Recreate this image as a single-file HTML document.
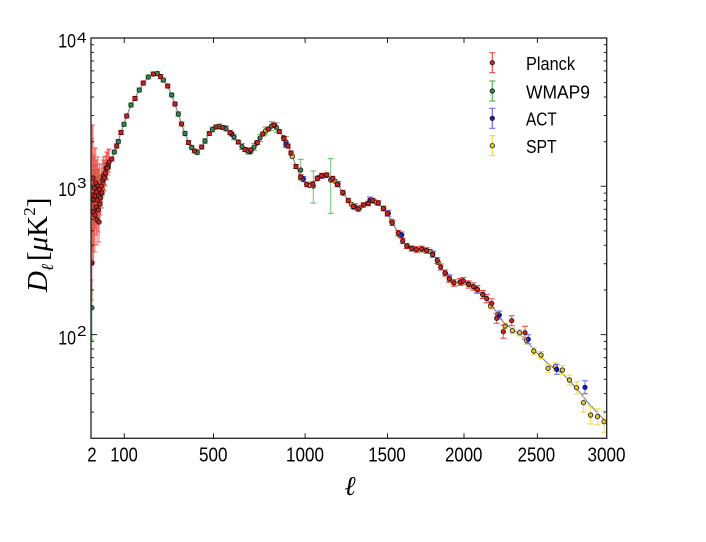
<!DOCTYPE html>
<html><head><meta charset="utf-8">
<style>
html,body{margin:0;padding:0;background:#fff;}
svg{display:block;}
</style></head>
<body>
<svg width="706" height="542" viewBox="0 0 706 542" xmlns="http://www.w3.org/2000/svg" font-family="Liberation Sans, sans-serif">
<defs>
<clipPath id="cp"><rect x="91" y="38" width="515.7" height="400.3"/></clipPath>
<marker id="cR" markerUnits="userSpaceOnUse" markerWidth="6" markerHeight="2" refX="3" refY="1" orient="0" overflow="visible"><path d="M0 1h6" stroke="#f03c3c" stroke-width="1"/></marker>
<marker id="cRs" markerUnits="userSpaceOnUse" markerWidth="4" markerHeight="2" refX="2" refY="1" orient="0" overflow="visible"><path d="M0 1h4" stroke="#f03c3c" stroke-width="0.8"/></marker>
<marker id="cG" markerUnits="userSpaceOnUse" markerWidth="6" markerHeight="2" refX="3" refY="1" orient="0" overflow="visible"><path d="M0 1h6" stroke="#5cb85c" stroke-width="1"/></marker>
<marker id="cGs" markerUnits="userSpaceOnUse" markerWidth="4" markerHeight="2" refX="2" refY="1" orient="0" overflow="visible"><path d="M0 1h4" stroke="#5cb85c" stroke-width="0.8"/></marker>
<marker id="cB" markerUnits="userSpaceOnUse" markerWidth="6" markerHeight="2" refX="3" refY="1" orient="0" overflow="visible"><path d="M0 1h6" stroke="#6a6aff" stroke-width="1"/></marker>
<marker id="cY" markerUnits="userSpaceOnUse" markerWidth="6" markerHeight="2" refX="3" refY="1" orient="0" overflow="visible"><path d="M0 1h6" stroke="#f2d84a" stroke-width="1"/></marker>
</defs>
<rect width="706" height="542" fill="#fff"/>

<g clip-path="url(#cp)">
<!-- theory line -->
<path fill="none" stroke="#8a8a8a" stroke-width="1.2" d="M91 185L94 188L97 190L100 190L101.5 188L103.3 182L105 176L108.3 167L111.7 159L114.3 152L116.7 146.5L118.3 141.5L121 132L124 124.3L126.7 116L131 105L135 98L139.3 90L143.3 83L148.3 77L153.3 74L157.3 73.5L160.5 76L163.3 80L167.7 86L171.7 95L175 104L178.3 114L181.5 124L185 133.5L188.5 142L191.7 147.5L194.5 151L197.3 152.3L201.7 147.5L205 141L209.3 133.3L212.5 129.5L216 127L219.5 126.5L222.7 127L226 128.5L230 132.5L234 137L238.3 142L242 146.5L245 149.3L248 151L251 150.5L254 147L257.3 142L260 138L262.7 134L265.5 131L268.3 129L271.5 126L274 125L276.5 127.5L279.3 131.5L284 138L288 146L291 153L296 166L300.7 177L303.5 182L306.7 184.5L309.5 185.5L312.7 184L317.3 178L321.7 175.5L326.7 175.5L332.7 178.5L337.3 184L342.7 192.5L348.3 200.5L353.3 206.5L358.3 208.5L363.3 205.5L368.3 203L372.7 201L378.3 203L383.3 208L387.3 213.5L392.3 222.5L398.3 233L402.7 240.5L406.7 246L411.7 248.5L416.7 249.3L421.7 249.5L426.7 250.5L432.7 254L437.3 261L440.7 267L445 273L449.3 278.5L454 282.5L460 282L463.3 281.5L468.7 284L473.3 286.5L477.3 289.5L482.7 294L486.7 298.5L491.7 305L496.7 313L503.3 322L511.7 329L519.3 334L525 338.5L534 350L540.7 356.5L548.3 364L555 369L561.7 373L569 380L576 388L582.7 396L590 405L596.7 412L604.3 420L608 424"/>

<!-- WMAP9 -->
<path fill="none" stroke="#5cb85c" stroke-width="1" stroke-opacity="0.85" marker-start="url(#cGs)" marker-mid="url(#cGs)" marker-end="url(#cGs)" d="M91.9 280V340M92.46 170V250M93.5 155V225M94.45 170V230M95.36 165V218M96.2 176V224M97.05 164V207M97.86 176V217M98.65 171V209M99.8 177V212M101.28 174V205M102.7 168V197M104.1 163V190M105.4 163V186"/>
<path fill="none" stroke="#5cb85c" stroke-width="1" stroke-opacity="0.85" marker-start="url(#cG)" marker-mid="url(#cG)" marker-end="url(#cG)" d="M108.3 165V169M114.3 150V154M118.3 139.5V143.5M124 122.3V126.3M131 103V107M139.3 88V92M148.3 75V79M157.3 71.5V75.5M163.3 78V82M171.7 93V97M178.3 111.8V116.2M185 131.3V135.7M191.7 145.3V149.7M197.3 150V154.6M205 138.7V143.3M212.5 127V132M219.5 124V129M226 125.8V131.2M234 134.2V139.8M242 143.5V149.5M248 147.8V154.2M254 143.6V150.4M260 134.4V141.6M265.5 127V135M271.5 121.7V130.3M276.5 122.9V132.1M286 136.5V147.5M300.7 159.3V180M313.3 171V203M330.7 158.7V213.3"/>
<g fill="#2e8b57" stroke="#111" stroke-width="0.8">
<circle cx="91.9" cy="307.7" r="2.2"/><circle cx="92.46" cy="205" r="2.2"/><circle cx="93.5" cy="186" r="2.2"/><circle cx="94.45" cy="198" r="2.2"/><circle cx="95.36" cy="190" r="2.2"/><circle cx="96.2" cy="199" r="2.2"/><circle cx="97.05" cy="185" r="2.2"/><circle cx="97.86" cy="196" r="2.2"/><circle cx="98.65" cy="190" r="2.2"/><circle cx="99.8" cy="195" r="2.2"/><circle cx="101.28" cy="190" r="2.2"/><circle cx="102.7" cy="183" r="2.2"/><circle cx="104.1" cy="177" r="2.2"/><circle cx="105.4" cy="175" r="2.2"/>
<circle cx="108.3" cy="167" r="2.2"/><circle cx="114.3" cy="152" r="2.2"/><circle cx="118.3" cy="141.5" r="2.2"/><circle cx="124" cy="124.3" r="2.2"/><circle cx="131" cy="105" r="2.2"/><circle cx="139.3" cy="90" r="2.2"/><circle cx="148.3" cy="77" r="2.2"/><circle cx="157.3" cy="73.5" r="2.2"/><circle cx="163.3" cy="80" r="2.2"/><circle cx="171.7" cy="95" r="2.2"/><circle cx="178.3" cy="114" r="2.2"/><circle cx="185" cy="133.5" r="2.2"/><circle cx="191.7" cy="147.5" r="2.2"/><circle cx="197.3" cy="152.3" r="2.2"/><circle cx="205" cy="141" r="2.2"/><circle cx="212.5" cy="129.5" r="2.2"/><circle cx="219.5" cy="126.5" r="2.2"/><circle cx="226" cy="128.5" r="2.2"/><circle cx="234" cy="137" r="2.2"/><circle cx="242" cy="146.5" r="2.2"/><circle cx="248" cy="151" r="2.2"/><circle cx="254" cy="147" r="2.2"/><circle cx="260" cy="138" r="2.2"/><circle cx="265.5" cy="131" r="2.2"/><circle cx="271.5" cy="126" r="2.2"/><circle cx="276.5" cy="127.5" r="2.2"/><circle cx="286" cy="142" r="2.2"/><circle cx="300.7" cy="170" r="2.2"/><circle cx="313.3" cy="186" r="2.2"/><circle cx="330.7" cy="180" r="2.2"/>
</g>

<!-- SPT -->
<path fill="none" stroke="#f2d84a" stroke-width="1" stroke-opacity="0.9" marker-start="url(#cY)" marker-mid="url(#cY)" marker-end="url(#cY)" d="M247.3 149.1V152.1M256.5 141.7V144.7M265.6 129.5V132.5M274.6 124.1V127.1M283.5 135.8V138.8M292.3 154.9V157.9M300.9 175.9V178.9M309.5 184V187M318 176.1V179.1M326.5 173.9V177.1M334.8 179.4V182.6M343.1 191.5V194.7M351.4 202.5V205.9M359.6 206V209.4M367.6 201.6V205.2M375.6 200.2V203.8M383.7 206.7V210.5M391.6 219.3V223.1M399.4 232.9V236.9M407.3 244.3V248.3M415.1 246.9V251.1M422.8 247.6V251.8M430.5 249.3V253.7M438.1 260.2V264.6M445.7 271.6V276.2M453.3 279.5V284.3M460.8 279.5V284.5M468.3 281.2V286.4M475.7 285.6V291M483.1 291.7V297.3M490.5 303V309M497.9 311.6V317.6M505.1 323V329M512.4 327.7V333.7M519.6 329.5V335.9M526.7 337.4V344M533.8 347.5V354.5M541 351.5V358.5M548.1 364.3V372.3M555.3 362.7V370.7M562.4 365.5V374.5M569.5 375V385M576.6 381.7V393.7M583.4 393.2V412.2M590.6 406V424M597.4 408.7V424.7M604 411.2V432.2"/>
<g fill="#e8c830" stroke="#111" stroke-width="0.8">
<circle cx="247.3" cy="150.6" r="2.2"/><circle cx="256.5" cy="143.2" r="2.2"/><circle cx="265.6" cy="131" r="2.2"/><circle cx="274.6" cy="125.6" r="2.2"/><circle cx="283.5" cy="137.3" r="2.2"/><circle cx="292.3" cy="156.4" r="2.2"/><circle cx="300.9" cy="177.4" r="2.2"/><circle cx="309.5" cy="185.5" r="2.2"/><circle cx="318" cy="177.6" r="2.2"/><circle cx="326.5" cy="175.5" r="2.2"/><circle cx="334.8" cy="181" r="2.2"/><circle cx="343.1" cy="193.1" r="2.2"/><circle cx="351.4" cy="204.2" r="2.2"/><circle cx="359.6" cy="207.7" r="2.2"/><circle cx="367.6" cy="203.4" r="2.2"/><circle cx="375.6" cy="202" r="2.2"/><circle cx="383.7" cy="208.6" r="2.2"/><circle cx="391.6" cy="221.2" r="2.2"/><circle cx="399.4" cy="234.9" r="2.2"/><circle cx="407.3" cy="246.3" r="2.2"/><circle cx="415.1" cy="249" r="2.2"/><circle cx="422.8" cy="249.7" r="2.2"/><circle cx="430.5" cy="251.5" r="2.2"/><circle cx="438.1" cy="262.4" r="2.2"/><circle cx="445.7" cy="273.9" r="2.2"/><circle cx="453.3" cy="281.9" r="2.2"/><circle cx="460.8" cy="282" r="2.2"/><circle cx="468.3" cy="283.8" r="2.2"/><circle cx="475.7" cy="288.3" r="2.2"/><circle cx="483.1" cy="294.5" r="2.2"/><circle cx="490.5" cy="306" r="2.2"/><circle cx="497.9" cy="314.6" r="2.2"/><circle cx="505.1" cy="326" r="2.2"/><circle cx="512.4" cy="330.7" r="2.2"/><circle cx="519.6" cy="332.7" r="2.2"/><circle cx="526.7" cy="340.7" r="2.2"/><circle cx="533.8" cy="351" r="2.2"/><circle cx="541" cy="355" r="2.2"/><circle cx="548.1" cy="368.3" r="2.2"/><circle cx="555.3" cy="366.7" r="2.2"/><circle cx="562.4" cy="370" r="2.2"/><circle cx="569.5" cy="380" r="2.2"/><circle cx="576.6" cy="387.7" r="2.2"/><circle cx="583.4" cy="402.7" r="2.2"/><circle cx="590.6" cy="415" r="2.2"/><circle cx="597.4" cy="416.7" r="2.2"/><circle cx="604" cy="421.7" r="2.2"/>
</g>

<!-- ACT -->
<path fill="none" stroke="#6a6aff" stroke-width="1" marker-start="url(#cB)" marker-mid="url(#cB)" marker-end="url(#cB)" d="M231.7 132V136M250 149.7V153.7M286 142.3V146.3M303.3 176.5V181.5M321.7 173.5V178.5M338 181.5V186.5M355 203.7V209.7M370 197V203M388.3 210.3V216.3M401.7 232V238M432.7 251V257M449.3 274.8V281.8M477.3 285.8V292.8M499.3 311V319M528.3 334.8V343.8M556.7 364.3V374.3M585 380.8V393.8"/>
<g fill="#1a1acc" stroke="#111" stroke-width="0.8">
<circle cx="231.7" cy="134" r="2.2"/><circle cx="250" cy="151.7" r="2.2"/><circle cx="286" cy="144.3" r="2.2"/><circle cx="303.3" cy="179" r="2.2"/><circle cx="321.7" cy="176" r="2.2"/><circle cx="338" cy="184" r="2.2"/><circle cx="355" cy="206.7" r="2.2"/><circle cx="370" cy="200" r="2.2"/><circle cx="388.3" cy="213.3" r="2.2"/><circle cx="401.7" cy="235" r="2.2"/><circle cx="432.7" cy="254" r="2.2"/><circle cx="449.3" cy="278.3" r="2.2"/><circle cx="477.3" cy="289.3" r="2.2"/><circle cx="499.3" cy="315" r="2.2"/><circle cx="528.3" cy="339.3" r="2.2"/><circle cx="556.7" cy="369.3" r="2.2"/><circle cx="585" cy="387.3" r="2.2"/>
</g>

<!-- Planck -->
<path fill="none" stroke="#f03c3c" stroke-width="1" stroke-opacity="0.75" marker-start="url(#cRs)" marker-mid="url(#cRs)" marker-end="url(#cRs)" d="M91.9 125V300M92.46 139V265M92.99 125V233M93.5 165V262M94 157V245M94.45 148V228M94.9 177V252M95.36 160V228M95.8 148V212M96.2 173V235M96.64 160V218M97.05 189V245M97.45 170V224M97.86 157V208M98.26 182V232M98.65 169V217M99.04 196V242M99.42 164V208M99.8 180V222M100.55 175V215M101.28 164V202M102 172V208M102.7 160V195M103.38 157V190M104.4 160V191M105.4 156V185M106.3 152V180M107.3 153V179M108.2 150V175M109.1 149V172"/>
<path fill="none" stroke="#f03c3c" stroke-width="1" stroke-opacity="0.85" marker-start="url(#cR)" marker-mid="url(#cR)" marker-end="url(#cR)" d="M111.7 157V161M116.7 144V148M121 130.5V134.5M126.7 114V118M135 96.5V100.5M143.3 81V85M153.3 72V76M160.5 74.5V78.5M167.7 84V88M175 102V106M181.5 122V126M188.5 140.5V144.5M194.5 149V153M201.7 145V149M209.3 131.5V135.5M216 125V129M222.7 125.5V129.5M230 130.5V134.5M238.3 140V144M245 147.5V151.5M251 148V152M257.3 140.5V144.5M262.7 132V136M268.3 127V131M274 123V127M279.3 129.5V133.5M284 136.5V140.5M288 144V148M291 151V155M296 164.5V168.5M300.7 174.8V179.2M306.7 182.3V186.7M312.7 181.8V186.2M317.3 176.3V180.7M321.7 173.3V177.7M326.7 172.8V177.2M332.7 176.3V180.7M337.3 182.3V186.7M342.7 190.3V194.7M348.3 198.3V202.7M353.3 204.3V208.7M358.3 206.8V211.2M363.3 202.8V207.2M368.3 201.3V205.7M372.7 198.3V202.7M378.3 200.6V205.4M383.3 206.1V210.9M387.3 211.1V215.9M392.3 220.6V225.4M398.3 230.4V235.6M402.7 238.4V243.6M406.7 243.4V248.6M411.7 245.9V251.1M416.7 246.7V252.3M421.7 246.2V251.8M426.7 247.7V253.3M432.7 251.7V257.3M437.3 257.5V263.5M440.7 264V270M445 270V276M449.3 275.8V282.2M454 279.8V286.2M460 278.6V285.4M463.3 277.6V284.4M468.7 280.9V288.1M473.3 282.9V290.1M477.3 285.7V293.3M482.7 290.5V298.5M486.7 294.3V302.7M491.7 298.8V307.8M496.7 313.3V323.3M503.3 325.2V338.2M511.7 315.7V325.7M525 326.2V339.2"/>
<g fill="#d42020" stroke="#111" stroke-width="0.8">
<circle cx="91.9" cy="263" r="2.2"/><circle cx="92.46" cy="195" r="2.2"/><circle cx="92.99" cy="178" r="2.2"/><circle cx="93.5" cy="212" r="2.2"/><circle cx="94" cy="200" r="2.2"/><circle cx="94.45" cy="188" r="2.2"/><circle cx="94.9" cy="215" r="2.2"/><circle cx="95.36" cy="196" r="2.2"/><circle cx="95.8" cy="183" r="2.2"/><circle cx="96.2" cy="207" r="2.2"/><circle cx="96.64" cy="192" r="2.2"/><circle cx="97.05" cy="220" r="2.2"/><circle cx="97.45" cy="200" r="2.2"/><circle cx="97.86" cy="186" r="2.2"/><circle cx="98.26" cy="210" r="2.2"/><circle cx="98.65" cy="196" r="2.2"/><circle cx="99.04" cy="222" r="2.2"/><circle cx="99.42" cy="189" r="2.2"/><circle cx="99.8" cy="204" r="2.2"/><circle cx="100.55" cy="198" r="2.2"/><circle cx="101.28" cy="186" r="2.2"/><circle cx="102" cy="193" r="2.2"/><circle cx="102.7" cy="180" r="2.2"/><circle cx="103.38" cy="176" r="2.2"/><circle cx="104.4" cy="178" r="2.2"/><circle cx="105.4" cy="173" r="2.2"/><circle cx="106.3" cy="168" r="2.2"/><circle cx="107.3" cy="168" r="2.2"/><circle cx="108.2" cy="164" r="2.2"/><circle cx="109.1" cy="162" r="2.2"/>
<circle cx="111.7" cy="159" r="2.2"/><circle cx="116.7" cy="146" r="2.2"/><circle cx="121" cy="132.5" r="2.2"/><circle cx="126.7" cy="116" r="2.2"/><circle cx="135" cy="98.5" r="2.2"/><circle cx="143.3" cy="83" r="2.2"/><circle cx="153.3" cy="74" r="2.2"/><circle cx="160.5" cy="76.5" r="2.2"/><circle cx="167.7" cy="86" r="2.2"/><circle cx="175" cy="104" r="2.2"/><circle cx="181.5" cy="124" r="2.2"/><circle cx="188.5" cy="142.5" r="2.2"/><circle cx="194.5" cy="151" r="2.2"/><circle cx="201.7" cy="147" r="2.2"/><circle cx="209.3" cy="133.5" r="2.2"/><circle cx="216" cy="127" r="2.2"/><circle cx="222.7" cy="127.5" r="2.2"/><circle cx="230" cy="132.5" r="2.2"/><circle cx="238.3" cy="142" r="2.2"/><circle cx="245" cy="149.5" r="2.2"/><circle cx="251" cy="150" r="2.2"/><circle cx="257.3" cy="142.5" r="2.2"/><circle cx="262.7" cy="134" r="2.2"/><circle cx="268.3" cy="129" r="2.2"/><circle cx="274" cy="125" r="2.2"/><circle cx="279.3" cy="131.5" r="2.2"/><circle cx="284" cy="138.5" r="2.2"/><circle cx="288" cy="146" r="2.2"/><circle cx="291" cy="153" r="2.2"/><circle cx="296" cy="166.5" r="2.2"/><circle cx="300.7" cy="177" r="2.2"/><circle cx="306.7" cy="184.5" r="2.2"/><circle cx="312.7" cy="184" r="2.2"/><circle cx="317.3" cy="178.5" r="2.2"/><circle cx="321.7" cy="175.5" r="2.2"/><circle cx="326.7" cy="175" r="2.2"/><circle cx="332.7" cy="178.5" r="2.2"/><circle cx="337.3" cy="184.5" r="2.2"/><circle cx="342.7" cy="192.5" r="2.2"/><circle cx="348.3" cy="200.5" r="2.2"/><circle cx="353.3" cy="206.5" r="2.2"/><circle cx="358.3" cy="209" r="2.2"/><circle cx="363.3" cy="205" r="2.2"/><circle cx="368.3" cy="203.5" r="2.2"/><circle cx="372.7" cy="200.5" r="2.2"/><circle cx="378.3" cy="203" r="2.2"/><circle cx="383.3" cy="208.5" r="2.2"/><circle cx="387.3" cy="213.5" r="2.2"/><circle cx="392.3" cy="223" r="2.2"/><circle cx="398.3" cy="233" r="2.2"/><circle cx="402.7" cy="241" r="2.2"/><circle cx="406.7" cy="246" r="2.2"/><circle cx="411.7" cy="248.5" r="2.2"/><circle cx="416.7" cy="249.5" r="2.2"/><circle cx="421.7" cy="249" r="2.2"/><circle cx="426.7" cy="250.5" r="2.2"/><circle cx="432.7" cy="254.5" r="2.2"/><circle cx="437.3" cy="260.5" r="2.2"/><circle cx="440.7" cy="267" r="2.2"/><circle cx="445" cy="273" r="2.2"/><circle cx="449.3" cy="279" r="2.2"/><circle cx="454" cy="283" r="2.2"/><circle cx="460" cy="282" r="2.2"/><circle cx="463.3" cy="281" r="2.2"/><circle cx="468.7" cy="284.5" r="2.2"/><circle cx="473.3" cy="286.5" r="2.2"/><circle cx="477.3" cy="289.5" r="2.2"/><circle cx="482.7" cy="294.5" r="2.2"/><circle cx="486.7" cy="298.5" r="2.2"/><circle cx="491.7" cy="303.3" r="2.2"/><circle cx="496.7" cy="318.3" r="2.2"/><circle cx="503.3" cy="331.7" r="2.2"/><circle cx="511.7" cy="320.7" r="2.2"/><circle cx="525" cy="332.7" r="2.2"/>
</g>
</g>

<!-- ticks -->
<path fill="none" stroke="#222" stroke-width="1" d="
M91 412.1h3M91 393.6h3M91 379.2h3M91 367.5h3M91 357.6h3M91 349h3M91 341.4h3
M91 290h3M91 263.8h3M91 245.3h3M91 230.9h3M91 219.2h3M91 209.3h3M91 200.7h3M91 193.1h3
M91 141.7h3M91 115.5h3M91 97h3M91 82.6h3M91 70.9h3M91 61h3M91 52.4h3M91 44.8h3
M91 334.6h6M91 186.3h6M91 38h6
M606.7 412.1h-3M606.7 393.6h-3M606.7 379.2h-3M606.7 367.5h-3M606.7 357.6h-3M606.7 349h-3M606.7 341.4h-3
M606.7 290h-3M606.7 263.8h-3M606.7 245.3h-3M606.7 230.9h-3M606.7 219.2h-3M606.7 209.3h-3M606.7 200.7h-3M606.7 193.1h-3
M606.7 141.7h-3M606.7 115.5h-3M606.7 97h-3M606.7 82.6h-3M606.7 70.9h-3M606.7 61h-3M606.7 52.4h-3M606.7 44.8h-3
M606.7 334.6h-6M606.7 186.3h-6
M124.3 438.3v-5M213.5 438.3v-5M305.1 438.3v-5M387.5 438.3v-5M464 438.3v-5M537.4 438.3v-5
M124.3 38v5M213.5 38v5M305.1 38v5M387.5 38v5M464 38v5M537.4 38v5"/>
<rect x="91" y="38" width="515.7" height="400.3" fill="none" stroke="#222" stroke-width="1.3"/>

<!-- y tick labels -->
<g font-size="19" fill="#000">
<text x="58.3" y="47.5" textLength="17.7" lengthAdjust="spacingAndGlyphs">10</text>
<text x="58.3" y="195.8" textLength="17.7" lengthAdjust="spacingAndGlyphs">10</text>
<text x="58.3" y="344.5" textLength="17.7" lengthAdjust="spacingAndGlyphs">10</text>
</g>
<g font-size="15" fill="#000">
<text x="77" y="42.5" textLength="9.5" lengthAdjust="spacingAndGlyphs">4</text>
<text x="77" y="188" textLength="9.5" lengthAdjust="spacingAndGlyphs">3</text>
<text x="77" y="336.2" textLength="9.5" lengthAdjust="spacingAndGlyphs">2</text>
</g>
<!-- x tick labels -->
<g font-size="20.5" fill="#000" text-anchor="middle">
<text x="92" y="461.7" textLength="9.4" lengthAdjust="spacingAndGlyphs">2</text>
<text x="124" y="461.7" textLength="27.5" lengthAdjust="spacingAndGlyphs">100</text>
<text x="213.3" y="461.7" textLength="28.5" lengthAdjust="spacingAndGlyphs">500</text>
<text x="305" y="461.7" textLength="38" lengthAdjust="spacingAndGlyphs">1000</text>
<text x="387" y="461.7" textLength="37.5" lengthAdjust="spacingAndGlyphs">1500</text>
<text x="463.7" y="461.7" textLength="37.5" lengthAdjust="spacingAndGlyphs">2000</text>
<text x="536.4" y="461.7" textLength="37.5" lengthAdjust="spacingAndGlyphs">2500</text>
<text x="606.5" y="461.7" textLength="38" lengthAdjust="spacingAndGlyphs">3000</text>
</g>
<!-- axis labels -->
<text x="350" y="495" font-size="27" font-family="DejaVu Serif, serif" font-style="italic" text-anchor="middle" fill="#000">ℓ</text>
<text transform="translate(47,292) rotate(-90)" font-size="29" font-family="Liberation Serif, serif" fill="#000"><tspan font-style="italic">D</tspan><tspan font-family="DejaVu Serif, serif" font-style="italic" font-size="17" dy="6">ℓ</tspan><tspan dy="-6" dx="3">[</tspan><tspan font-style="italic">μ</tspan><tspan>K</tspan><tspan font-size="17" dy="-12">2</tspan><tspan dy="12">]</tspan></text>

<!-- legend -->
<g>
<path d="M492.3 52.7V72.7M489.3 52.7h6M489.3 72.7h6" stroke="#e85050" stroke-width="1.2" fill="none"/>
<circle cx="492.3" cy="62.7" r="2.2" fill="#d42020" stroke="#111" stroke-width="0.8"/>
<path d="M492.3 81V101M489.3 81h6M489.3 101h6" stroke="#5cb85c" stroke-width="1.2" fill="none"/>
<circle cx="492.3" cy="91" r="2.2" fill="#2e8b57" stroke="#111" stroke-width="0.8"/>
<path d="M492.3 108.3V128.3M489.3 108.3h6M489.3 128.3h6" stroke="#6a6aff" stroke-width="1.2" fill="none"/>
<circle cx="492.3" cy="118.3" r="2.2" fill="#1a1acc" stroke="#111" stroke-width="0.8"/>
<path d="M492.3 135.7V155.7M489.3 135.7h6M489.3 155.7h6" stroke="#f2d84a" stroke-width="1.2" fill="none"/>
<circle cx="492.3" cy="145.7" r="2.2" fill="#e8c830" stroke="#111" stroke-width="0.8"/>
<g font-size="18" fill="#000">
<text x="526" y="70" textLength="49" lengthAdjust="spacingAndGlyphs">Planck</text>
<text x="526" y="98.3" textLength="64" lengthAdjust="spacingAndGlyphs">WMAP9</text>
<text x="526" y="125.6" textLength="30.7" lengthAdjust="spacingAndGlyphs">ACT</text>
<text x="526" y="153" textLength="30.7" lengthAdjust="spacingAndGlyphs">SPT</text>
</g>
</g>
</svg>
</body></html>
